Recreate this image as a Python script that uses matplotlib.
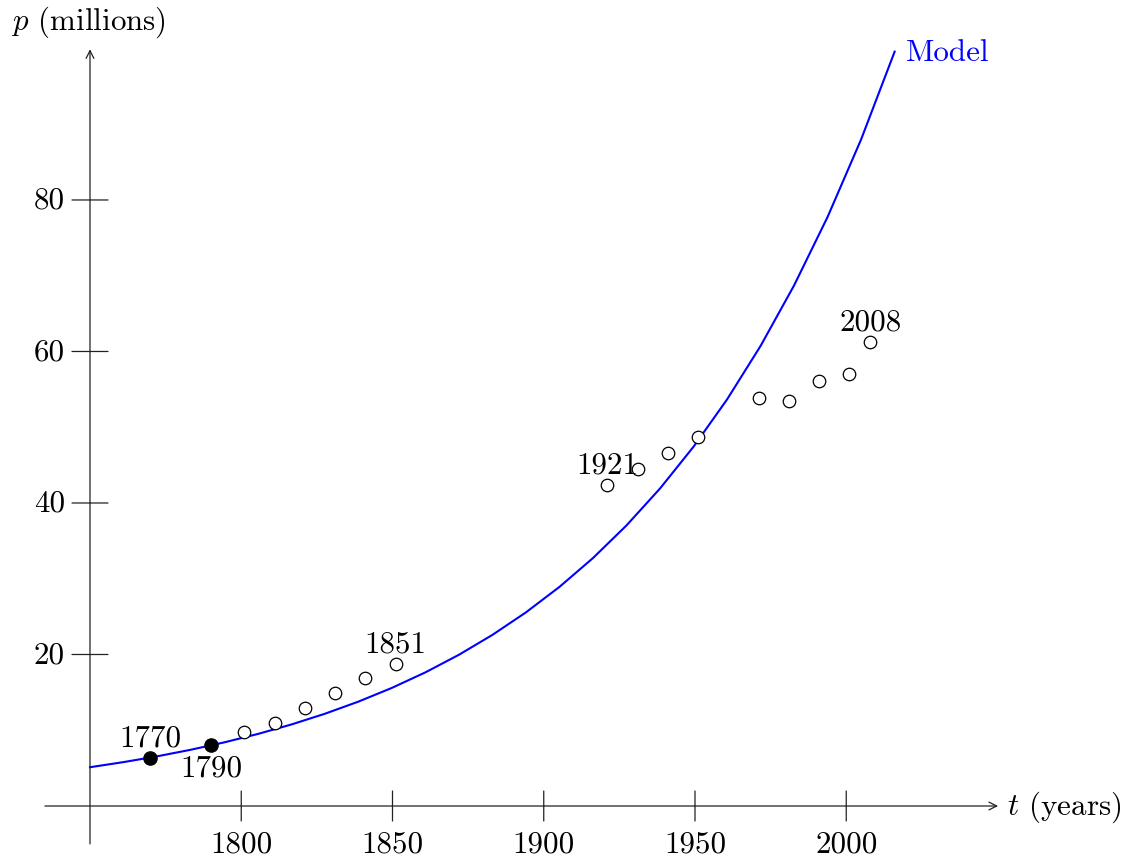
import numpy as np
import matplotlib
matplotlib.use("Agg")
import matplotlib.pyplot as plt

plt.rcParams['font.family'] = ['cmr10', 'DejaVu Sans']
plt.rcParams['mathtext.fontset'] = 'cm'
plt.rcParams['axes.unicode_minus'] = False

# census points (open circles)
years = [1801, 1811, 1821, 1831, 1841, 1851, 1921, 1931, 1941, 1951,
         1971, 1981, 1991, 2001, 2008]
pop = [9.73, 10.96, 12.90, 14.88, 16.86, 18.75, 42.42, 44.49, 46.60, 48.75,
       53.82, 53.51, 56.15, 57.03, 61.30]

# the two points the model is built from (filled)
base_years = [1770, 1790]
base_pop = [6.4, 8.0]

labelled = {1770: 'above', 1790: 'below', 1851: 'above', 1921: 'above', 2008: 'above'}

xticks = [1800, 1850, 1900, 1950, 2000]
yticks = [20, 40, 60, 80]

t_start, t_end = 1750, 2016

fig = plt.figure(figsize=(11.26, 8.62), dpi=100)
ax = fig.add_axes([0, 0, 1, 1])
ax.set_xlim(1720.25, 2092.48)
ax.set_ylim(-7.26, 106.53)
ax.axis('off')

FS = 22.3
axcol = '#222222'

# axes with arrow heads
arr = dict(arrowstyle='->', lw=0.9, color=axcol, shrinkA=0, shrinkB=0, mutation_scale=14)
ax.annotate('', xy=(2050.2, 0), xytext=(1735.1, 0), arrowprops=arr)
ax.annotate('', xy=(1750, 99.9), xytext=(1750, -5.0), arrowprops=arr)

# ticks
for t in xticks:
    ax.annotate('', xy=(t, 0), xytext=(0, 15), textcoords='offset pixels',
                arrowprops=dict(arrowstyle='-', lw=0.9, color=axcol, shrinkA=0, shrinkB=0))
    ax.annotate('', xy=(t, 0), xytext=(0, -15), textcoords='offset pixels',
                arrowprops=dict(arrowstyle='-', lw=0.9, color=axcol, shrinkA=0, shrinkB=0))
    ax.text(t, -5.0, str(t), fontsize=FS, ha='center', va='center')
for v in yticks:
    ax.annotate('', xy=(1750, v), xytext=(-18, 0), textcoords='offset pixels',
                arrowprops=dict(arrowstyle='-', lw=0.9, color=axcol, shrinkA=0, shrinkB=0))
    ax.annotate('', xy=(1750, v), xytext=(18, 0), textcoords='offset pixels',
                arrowprops=dict(arrowstyle='-', lw=0.9, color=axcol, shrinkA=0, shrinkB=0))
    ax.text(1741.7, v, str(v), fontsize=FS, ha='right', va='center')

# axis labels
ax.text(1749.5, 103.6, r'$p$ (millions)', fontsize=FS, ha='center', va='center')
ax.text(2053.3, 0, r'$t$ (years)', fontsize=FS, ha='left', va='center')

# exponential model through the 1770 and 1790 values
k = np.log(base_pop[1] / base_pop[0]) / (base_years[1] - base_years[0])
tt = np.linspace(t_start, t_end, 25)
pp = base_pop[0] * np.exp(k * (tt - base_years[0]))
ax.plot(tt, pp, color='#0000ff', lw=1.5)
ax.annotate('Model', xy=(tt[-1], pp[-1]), xytext=(11, 0), textcoords='offset pixels',
            fontsize=FS, color='#0000ff', ha='left', va='center')

ax.plot(years, pop, 'o', ms=9, mfc='white', mec='black', mew=0.9, zorder=3)
ax.plot(base_years, base_pop, 'o', ms=9.5, mfc='black', mec='black', zorder=3)

allx = years + base_years
ally = pop + base_pop
for yr, side in labelled.items():
    i = allx.index(yr)
    dy = 20 if side == 'above' else -22
    ax.annotate(str(yr), xy=(allx[i], ally[i]), xytext=(0, dy), textcoords='offset pixels',
                fontsize=FS, ha='center', va='center')

fig.savefig('out.png', dpi=100)
